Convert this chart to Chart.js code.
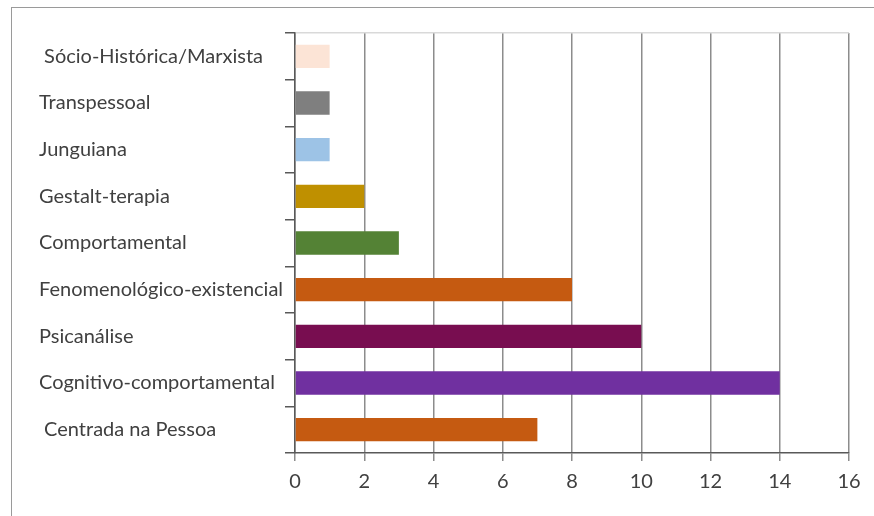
<!DOCTYPE html>
<html>
<head>
<meta charset="utf-8">
<script src="https://cdn.jsdelivr.net/npm/chart.js@4/dist/chart.umd.min.js"></script>
<style>
  html, body { margin: 0; padding: 0; background: #fff; }
  #wrap { position: relative; width: 874px; height: 516px; overflow: hidden; }
  #frame { position: absolute; left: 11px; top: 7px; width: 900px; height: 600px;
           border-left: 1px solid #9a9a9a; border-top: 1px solid #9a9a9a; }
  canvas { position: absolute; left: 0; top: 0; }
</style>
</head>
<body>
<div id="wrap">
  <div id="frame"></div>
  <canvas id="myChartAbordagens" width="874" height="516"></canvas>
</div>
<script>
var categories = [
    ' Sócio-Histórica/Marxista',
    'Transpessoal',
    'Junguiana',
    'Gestalt-terapia',
    'Comportamental',
    'Fenomenológico-existencial',
    'Psicanálise',
    'Cognitivo-comportamental',
    ' Centrada na Pessoa'
];
var values = [1, 1, 1, 2, 3, 8, 10, 14, 7];
var barColors = [
    '#FCE4D6',
    '#7F7F7F',
    '#9DC3E6',
    '#BF9000',
    '#548235',
    '#C55A11',
    '#780D50',
    '#7030A0',
    '#C55A11'
];
var xTicks = [0, 2, 4, 6, 8, 10, 12, 14, 16];

var ctx = document.getElementById('myChartAbordagens').getContext('2d');
var myChartAbordagens = new Chart(ctx, {
    type: 'bar',
    data: {
        labels: categories,
        datasets: [{
            label: ' ',
            data: values,
            backgroundColor: barColors,
            borderWidth: 0,
            barPercentage: 0.5,
            categoryPercentage: 1
        }]
    },
    options: {
        indexAxis: 'y',
        responsive: false,
        animation: false,
        layout: { padding: { left: 39, top: 33, right: 25, bottom: 0 } },
        plugins: { legend: { display: false }, tooltip: { enabled: false } },
        scales: {
            x: {
                min: xTicks[0],
                max: xTicks[xTicks.length - 1],
                afterFit: function (scale) { scale.height = 63; },
                ticks: {
                    stepSize: 2,
                    color: '#404040',
                    padding: 9,
                    font: { family: 'Lato', size: 20 }
                },
                grid: {
                    color: '#8c8c8c',
                    lineWidth: 1.5,
                    tickLength: 8,
                    tickColor: '#8c8c8c'
                },
                border: { color: '#595959', width: 1.5 }
            },
            y: {
                afterFit: function (scale) { scale.width = 256; },
                ticks: {
                    crossAlign: 'far',
                    color: '#404040',
                    font: { family: 'Lato', size: 20 }
                },
                grid: {
                    color: function (c) { return c.index === 0 ? '#d9d9d9' : 'rgba(0,0,0,0)'; },
                    lineWidth: 1.5,
                    tickLength: 10,
                    tickColor: '#595959'
                },
                border: { color: '#595959', width: 1.5 }
            }
        }
    }
});
</script>
</body>
</html>
